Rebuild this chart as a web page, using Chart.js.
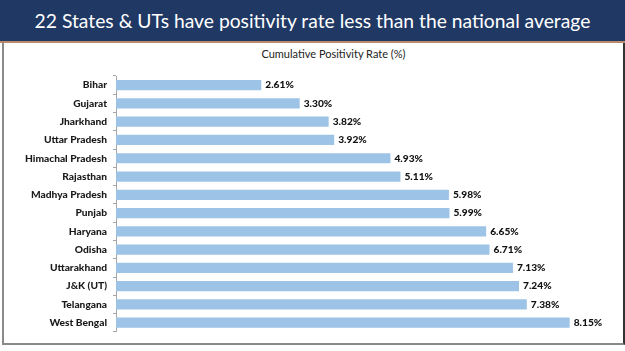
<!DOCTYPE html>
<html>
<head>
<meta charset="utf-8">
<script src="https://cdn.jsdelivr.net/npm/chart.js@4"></script>
<style>
  html, body { margin: 0; padding: 0; background: #fff; }
  #page { position: relative; width: 625px; height: 351px; overflow: hidden; background: #fff; }
  #banner {
    position: absolute; left: 0; top: 0; width: 625px; height: 41px;
    background: #1f3864; color: #fff;
    font-family: Lato, "Open Sans", sans-serif; font-size: 19.3px;
    line-height: 41px; text-align: center; white-space: nowrap;
  }
  #rule { position: absolute; left: 0; top: 41px; width: 625px; height: 2px; background: #b98a6c; }
  #frame {
    position: absolute; left: 2px; top: 43px; width: 619px; height: 300px;
    border-left: 2px solid #8a8a8a; border-right: 2px solid #333; border-bottom: 2px solid #8a8a8a;
  }
  #subtitle {
    position: absolute; left: 0; top: 47px; width: 667px; text-align: center;
    font-family: Lato, "Open Sans", sans-serif; font-size: 11px; color: #222;
  }
  #wrap { position: absolute; left: 0; top: 44px; width: 622px; height: 300px; }
</style>
</head>
<body>
<div id="page">
  <div id="banner">22 States &amp; UTs have positivity rate less than the national average</div>
  <div id="rule"></div>
  <div id="frame"></div>
  <div id="subtitle">Cumulative Positivity Rate (%)</div>
  <div id="wrap"><canvas id="chart"></canvas></div>
</div>
<script>
/* Cumulative positivity rate by state, horizontal bars */

const states = ['Bihar','Gujarat','Jharkhand','Uttar Pradesh','Himachal Pradesh','Rajasthan','Madhya Pradesh',
                'Punjab','Haryana','Odisha','Uttarakhand','J&K (UT)','Telangana','West Bengal'];
const rates  = [2.61, 3.30, 3.82, 3.92, 4.93, 5.11, 5.98, 5.99, 6.65, 6.71, 7.13, 7.24, 7.38, 8.15];

const LABEL_FONT = { family: 'Lato, "Open Sans", sans-serif', size: 10.2, weight: '900' };

// value labels at the end of each bar
const valueLabels = {
  id: 'valueLabels',
  afterDatasetsDraw(chart) {
    const ctx = chart.ctx;
    const meta = chart.getDatasetMeta(0);
    ctx.save();
    ctx.font = `${LABEL_FONT.weight} ${LABEL_FONT.size}px ${LABEL_FONT.family}`;
    ctx.fillStyle = '#111';
    ctx.textBaseline = 'middle';
    ctx.textAlign = 'left';
    meta.data.forEach((bar, i) => {
      ctx.fillText(rates[i].toFixed(2) + '%', bar.x + 4, bar.y);
    });
    ctx.restore();
  }
};

new Chart(document.getElementById('chart'), {
  type: 'bar',
  data: {
    labels: states,
    datasets: [{
      data: rates,
      backgroundColor: '#9dc3e6',
      borderWidth: 0,
      barPercentage: 0.56,
      categoryPercentage: 1,
    }],
  },
  options: {
    indexAxis: 'y',
    responsive: true,
    maintainAspectRatio: false,
    animation: false,
    layout: { padding: { top: 32, bottom: 3, left: 0, right: 5 } },
    plugins: { legend: { display: false }, tooltip: { enabled: false }, title: { display: false } },
    scales: {
      x: { min: 0, max: 9, display: false },
      y: {
        afterFit(scale) { scale.width = 116; },
        border: { display: true, color: '#a6a6a6', width: 1 },
        grid: { drawOnChartArea: false, drawTicks: true, tickLength: 3, color: '#a6a6a6', offset: true },
        ticks: { color: '#1a1a1a', font: LABEL_FONT, padding: 6, autoSkip: false },
      },
    },
  },
  plugins: [valueLabels],
});
</script>
</body>
</html>
